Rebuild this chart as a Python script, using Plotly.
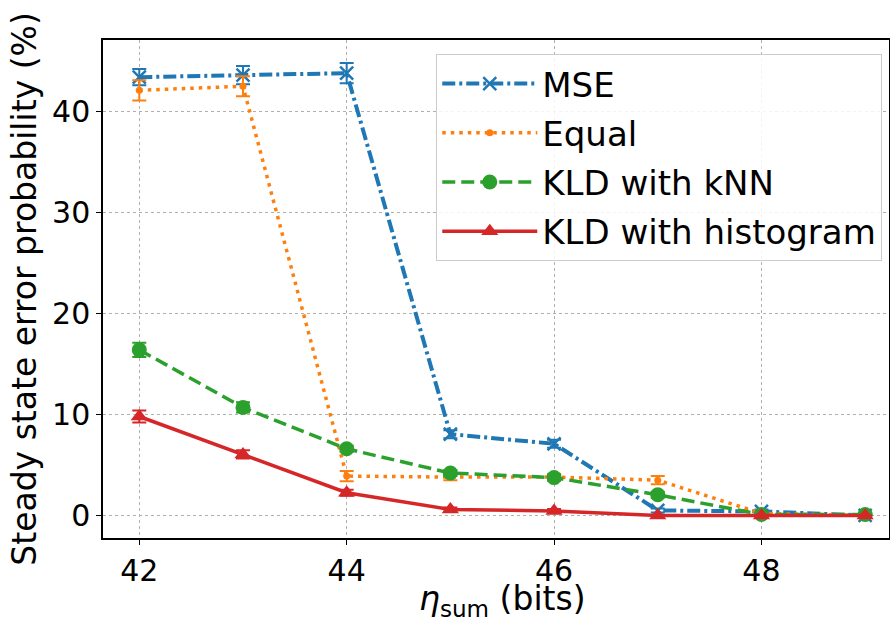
import plotly.graph_objects as go

x_bits = [42, 43, 44, 45, 46, 47, 48, 49]
mse = [43.4, 43.6, 43.8, 8.05, 7.1, 0.5, 0.4, 0.0]
mse_err = [0.8, 0.9, 1.0, 0.4, 0.4, 0.2, 0.2, 0.1]
equal = [42.1, 42.5, 3.9, 3.8, 3.8, 3.5, 0.2, 0.0]
equal_err = [1.0, 1.0, 0.5, 0.3, 0.3, 0.4, 0.1, 0.0]
knn = [16.4, 10.7, 6.6, 4.2, 3.75, 2.05, 0.1, 0.1]
knn_err = [0.7, 0.5, 0.3, 0.3, 0.3, 0.3, 0.1, 0.1]
hist = [9.8, 6.05, 2.25, 0.6, 0.45, 0.0, 0.0, 0.0]
hist_err = [0.6, 0.4, 0.3, 0.2, 0.2, 0.0, 0.0, 0.0]
x_ticks = [42, 44, 46, 48]
y_ticks = [0, 10, 20, 30, 40]
x_title = "<i>η</i><sub>sum</sub> (bits)"
y_title = "Steady state error probability (%)"

series = [
    ("MSE", mse, mse_err, "#1f77b4", "13px,4px,3px,4px", "x-thin", 13, 4),
    ("Equal", equal, equal_err, "#ff7f0e", "3.5px,5px", "circle", 7, 3.5),
    ("KLD with kNN", knn, knn_err, "#2ca02c", "13px,6px", "circle", 15, 3.5),
    ("KLD with histogram", hist, hist_err, "#d62728", "solid", "triangle-up", 15, 3.5),
]

fig = go.Figure()
for name, y, err, col, dash, sym, ms, lw in series:
    fig.add_trace(go.Scatter(
        x=x_bits, y=y, name=name, mode="lines+markers", legendgroup=name,
        line=dict(color=col, width=lw, dash=dash),
        marker=dict(symbol=sym, size=ms, color=col,
                    line=dict(color=col, width=2.5 if sym == "x-thin" else 0)),
        error_y=dict(type="data", array=err, visible=True, color=col,
                     thickness=2, width=7),
    ))

axis_common = dict(
    showline=True, linecolor="black", linewidth=1.5, mirror=True,
    ticks="outside", ticklen=5, tickwidth=1.2, tickcolor="black",
    showgrid=True, gridcolor="#b0b0b0", griddash="dot", gridwidth=1,
    zeroline=False, automargin=False,
    tickfont=dict(family="DejaVu Sans", size=30, color="black"),
)

fig.update_layout(
    width=890, height=617,
    margin=dict(l=103, r=1, t=40, b=79),
    paper_bgcolor="white", plot_bgcolor="white",
    font=dict(family="DejaVu Sans", color="black"),
    showlegend=True,
    legend=dict(
        x=0.424, y=0.972, xanchor="left", yanchor="top",
        bgcolor="rgba(255,255,255,0.85)", bordercolor="#cccccc", borderwidth=1,
        font=dict(family="DejaVu Sans", size=34, color="black"),
        itemwidth=95, tracegroupgap=2,
    ),
    xaxis=dict(range=[41.65, 49.23], tickvals=x_ticks, **axis_common),
    yaxis=dict(range=[-2.23, 47.08], tickvals=y_ticks,
               title=dict(text=y_title,
                          font=dict(family="DejaVu Sans", size=33), standoff=6),
               **axis_common),
    annotations=[dict(
        text=x_title, xref="paper", yref="paper", x=0.5, y=0,
        xanchor="center", yanchor="top", xshift=6, yshift=-39,
        showarrow=False, font=dict(family="DejaVu Sans", size=33, color="black"),
    )],
)

fig.write_html("out.html", config={"displayModeBar": False},
               post_script="document.body.style.margin='0';document.body.style.padding='0';")
